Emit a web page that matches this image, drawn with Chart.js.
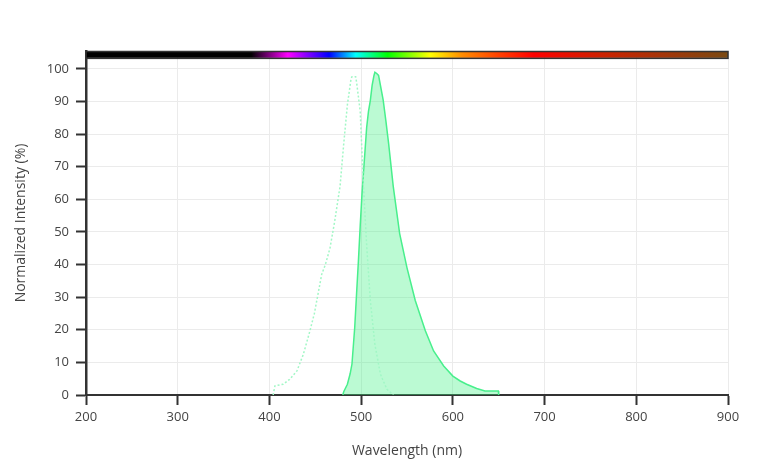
<!DOCTYPE html>
<html>
<head>
<meta charset="utf-8">
<script src="https://cdn.jsdelivr.net/npm/chart.js@4/dist/chart.umd.min.js"></script>
<style>
  body { margin: 0; background: #fff; }
  canvas { display: block; }
</style>
</head>
<body>
<canvas id="spectra-chart" width="769" height="467"></canvas>
<script>
// excitation spectrum (dotted)
const ex_wavelengths = [404, 406, 415, 422, 430, 437, 444, 449, 453, 457, 461, 466, 471, 477, 481, 485, 489, 490, 494, 495, 499, 502, 506, 510, 515, 521, 528, 535];
const ex_values = [0, 2.8, 3.3, 4.8, 7.4, 12.5, 19.5, 25, 31, 37, 40, 45, 53, 64, 77, 89, 97, 97.6, 97.6, 96, 87, 67, 46, 29, 15.5, 6.4, 1.8, 0];

// emission spectrum (filled)
const em_wavelengths = [480, 481, 485, 488, 490, 493, 495, 497, 499, 501, 503, 506, 508, 510, 512, 514, 515, 517, 519, 521, 524, 527, 530, 535, 542, 550, 559, 570, 579, 590, 600, 608, 615, 626, 635, 649.6, 650];
const em_values = [0, 1, 3.3, 6.5, 9.5, 20.7, 31, 41, 52, 62, 70, 82, 87, 90.3, 95, 98, 99, 98.6, 98, 95, 90.5, 84, 77, 64, 49.5, 39, 29, 19.7, 13.5, 8.9, 5.8, 4.3, 3.3, 2.0, 1.2, 1.2, 0];

const x_ticks = [200, 300, 400, 500, 600, 700, 800, 900];
const y_ticks = [0, 10, 20, 30, 40, 50, 60, 70, 80, 90, 100];

// colour bar along the top (wavelength -> colour)
const rainbow_stops = [
    [200, '#000000'], [380, '#000000'], [420, '#ff00ff'], [442, '#8000ff'],
    [465, '#0000ff'], [494, '#00ffff'], [529, '#00ff00'], [575, '#ffff00'],
    [610, '#ff8c00'], [650, '#ff4000'], [688, '#ff0000'], [765, '#cc2200'],
    [900, '#7a4a12']
];

function to_points(xs, ys) {
    return xs.map((x, i) => ({ x: x, y: ys[i] }));
}

const rainbow_bar = {
    id: 'rainbow_bar',
    afterDatasetsDraw(chart) {
        const ctx = chart.ctx;
        const xs = chart.scales.x;
        const area = chart.chartArea;
        const top = area.top;
        const bottom = chart.scales.y.getPixelForValue(103.4);
        const grad = ctx.createLinearGradient(area.left, 0, area.right, 0);
        rainbow_stops.forEach(s => {
            let p = (xs.getPixelForValue(s[0]) - area.left) / (area.right - area.left);
            grad.addColorStop(Math.min(1, Math.max(0, p)), s[1]);
        });
        ctx.save();
        ctx.fillStyle = grad;
        ctx.fillRect(area.left, top, area.right - area.left, bottom - top);
        ctx.strokeStyle = '#333';
        ctx.lineWidth = 1.5;
        ctx.strokeRect(area.left, top + 0.5, area.right - area.left, bottom - top);
        ctx.restore();
    }
};

const tick_font = { family: "'Open Sans', sans-serif", size: 13 };
const title_font = { family: "'Open Sans', sans-serif", size: 14 };

new Chart(document.getElementById('spectra-chart'), {
    type: 'line',
    data: {
        datasets: [{
            label: 'Excitation',
            data: to_points(ex_wavelengths, ex_values),
            borderColor: '#a2f7c6',
            borderWidth: 1.5,
            borderDash: [2, 2],
            pointRadius: 0,
            fill: false,
            tension: 0
        }, {
            label: 'Emission',
            data: to_points(em_wavelengths, em_values),
            borderColor: '#48ef8c',
            borderWidth: 1.5,
            backgroundColor: 'rgba(60, 240, 130, 0.35)',
            pointRadius: 0,
            fill: 'origin',
            tension: 0
        }]
    },
    options: {
        responsive: false,
        animation: false,
        layout: { padding: { top: 51, right: 41, left: 0, bottom: 0 } },
        plugins: {
            legend: { display: false },
            tooltip: { enabled: false }
        },
        scales: {
            x: {
                type: 'linear',
                min: 200,
                max: 900,
                afterFit: (scale) => { scale.height = 72; },
                afterBuildTicks: (scale) => { scale.ticks = x_ticks.map(v => ({ value: v })); },
                border: { color: '#333', width: 2 },
                grid: { color: '#ebebeb', lineWidth: 1, tickColor: '#333', tickLength: 10, tickWidth: 2 },
                ticks: { font: tick_font, color: '#444', padding: 4, maxRotation: 0 },
                title: { display: true, text: 'Wavelength (nm)', font: title_font, color: '#444', padding: { top: 8, bottom: 8 } }
            },
            y: {
                min: 0,
                max: 105.5,
                afterFit: (scale) => { scale.width = 86; },
                afterBuildTicks: (scale) => { scale.ticks = y_ticks.map(v => ({ value: v })); },
                border: { color: '#333', width: 2.5 },
                grid: { color: '#ebebeb', lineWidth: 1, tickColor: '#333', tickLength: 10, tickWidth: 2 },
                ticks: { font: tick_font, color: '#444', padding: 7 },
                title: { display: true, text: 'Normalized Intensity (%)', font: title_font, color: '#444', padding: { top: 13, bottom: 13 } }
            }
        }
    },
    plugins: [rainbow_bar]
});
</script>
</body>
</html>
